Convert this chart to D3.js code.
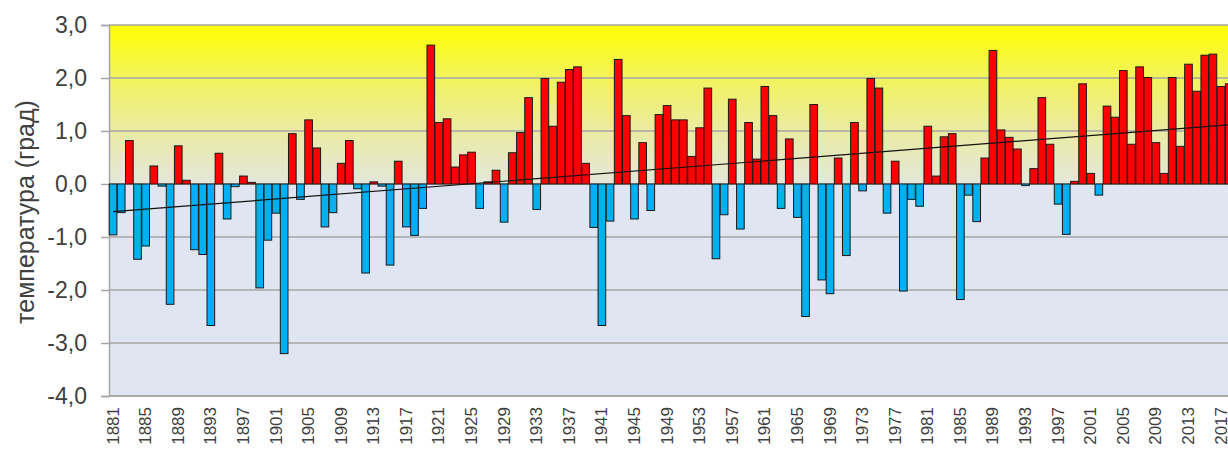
<!DOCTYPE html>
<html><head><meta charset="utf-8">
<script src="https://cdn.jsdelivr.net/npm/d3@7"></script>
<style>body{margin:0;background:#fff}svg{display:block}</style>
</head><body><svg id="c" width="1228" height="454"></svg>
<script>
const firstYear = 1881, lastYear = 2018;
const years = d3.range(firstYear, lastYear + 1);
const anomalies = [
  -0.96,-0.54,0.82,-1.42,-1.17,0.34,-0.04,-2.27,0.72,0.07,
  -1.24,-1.33,-2.67,0.58,-0.66,-0.05,0.15,0.03,-1.96,-1.06,
  -0.55,-3.20,0.95,-0.29,1.21,0.68,-0.81,-0.54,0.39,0.82,
  -0.09,-1.68,0.04,-0.04,-1.53,0.43,-0.81,-0.97,-0.46,2.62,
  1.16,1.23,0.32,0.55,0.60,-0.46,0.04,0.26,-0.72,0.59,
  0.97,1.63,-0.48,1.99,1.09,1.92,2.16,2.21,0.39,-0.82,
  -2.67,-0.70,2.35,1.29,-0.66,0.78,-0.50,1.31,1.48,1.21,
  1.21,0.52,1.06,1.81,-1.41,-0.58,1.60,-0.85,1.16,0.47,
  1.84,1.29,-0.46,0.85,-0.63,-2.50,1.50,-1.81,-2.07,0.49,
  -1.35,1.16,-0.13,1.99,1.81,-0.55,0.43,-2.02,-0.29,-0.42,
  1.09,0.15,0.89,0.95,-2.18,-0.21,-0.71,0.49,2.52,1.02,
  0.88,0.66,-0.03,0.29,1.63,0.75,-0.38,-0.95,0.05,1.89,
  0.20,-0.21,1.47,1.26,2.14,0.75,2.21,2.01,0.78,0.20,
  2.01,0.71,2.26,1.75,2.43,2.45,1.84,1.89
];
const yTicks = [-4,-3,-2,-1,0,1,2,3];
const xLabelYears = years.filter(y => (y - firstYear) % 4 === 0);
const yTitle = "температура (град)";

const svg = d3.select("#c");
const plotLeft = 109, plotTop = 25, plotBottom = 396;
const band = 8.147;
const x = d3.scaleBand().domain(years).range([plotLeft, plotLeft + band * years.length]).paddingInner(0.06).paddingOuter(0.03);
const y = d3.scaleLinear().domain([-4, 3]).range([plotBottom, plotTop]);

// background gradient
const defs = svg.append("defs");
const g = defs.append("linearGradient").attr("id","bg").attr("gradientUnits","userSpaceOnUse")
  .attr("x1",0).attr("x2",0).attr("y1",y(3)).attr("y2",y(-4));
const z = (y(0)-y(3))/(y(-4)-y(3));
[[0,"#FFFF00"],[z*0.33,"#F3F35C"],[z*0.66,"#EBEBA2"],[z,"#E3E7DA"],[z+0.005,"#DFE6F1"],[1,"#DFE6F1"]]
  .forEach(([o,c]) => g.append("stop").attr("offset",o).attr("stop-color",c));
svg.append("rect").attr("x",plotLeft).attr("y",y(3)).attr("width",1228-plotLeft).attr("height",y(-4)-y(3)).attr("fill","url(#bg)");

// gridlines
svg.append("g").selectAll("line").data(yTicks).join("line")
  .attr("x1",plotLeft).attr("x2",1228).attr("y1",d=>y(d)).attr("y2",d=>y(d))
  .attr("stroke","#A6A6A6").attr("stroke-width",1.5);

// y axis
const yAxis = d3.axisLeft(y).tickValues(yTicks).tickSize(8).tickPadding(14)
  .tickFormat(v => (v<0?"-":"") + Math.abs(v).toFixed(1).replace(".", ","));
const ya = svg.append("g").attr("transform",`translate(${plotLeft},0)`).call(yAxis);
ya.select(".domain").attr("stroke","#A6A6A6").attr("stroke-width",1.5);
ya.selectAll(".tick line").attr("stroke","#A6A6A6").attr("stroke-width",1.5);
ya.selectAll("text").attr("font-family","'Liberation Sans', Arial, sans-serif").attr("font-size",23).attr("fill","#404040");

// bars
svg.append("g").selectAll("rect").data(years).join("rect")
  .attr("x", d => x(d))
  .attr("width", x.bandwidth())
  .attr("y", (d,i) => y(Math.max(0, anomalies[i])))
  .attr("height", (d,i) => Math.abs(y(anomalies[i]) - y(0)))
  .attr("fill", (d,i) => anomalies[i] >= 0 ? "#FF0000" : "#00B0F0")
  .attr("stroke", "#1A1A1A").attr("stroke-width", 1);

// linear trend (least squares)
const mx = d3.mean(years), my = d3.mean(anomalies);
const slope = d3.sum(years, (yr,i) => (yr-mx)*(anomalies[i]-my)) / d3.sum(years, yr => (yr-mx)**2);
const trend = yr => my + slope*(yr-mx);
svg.append("line")
  .attr("x1", x(firstYear) + x.bandwidth()/2).attr("y1", y(trend(firstYear)))
  .attr("x2", x(lastYear) + x.bandwidth()/2).attr("y2", y(trend(lastYear)))
  .attr("stroke","#111").attr("stroke-width",1.2);

// x axis line
svg.append("line").attr("x1",plotLeft).attr("x2",1228).attr("y1",plotBottom).attr("y2",plotBottom)
  .attr("stroke","#A6A6A6").attr("stroke-width",1.5);

// x labels
svg.append("g").selectAll("text").data(xLabelYears).join("text")
  .attr("transform", d => `translate(${x(d)+x.bandwidth()/2},407) rotate(-90)`)
  .attr("text-anchor","end").attr("dominant-baseline","central")
  .attr("font-family","'Liberation Sans', Arial, sans-serif").attr("font-size",17).attr("fill","#404040")
  .text(d => d);

// y title
svg.append("text").attr("transform","translate(34,212) rotate(-90)")
  .attr("text-anchor","middle")
  .attr("font-family","'Liberation Sans', Arial, sans-serif").attr("font-size",25).attr("fill","#404040")
  .text(yTitle);
</script></body></html>
